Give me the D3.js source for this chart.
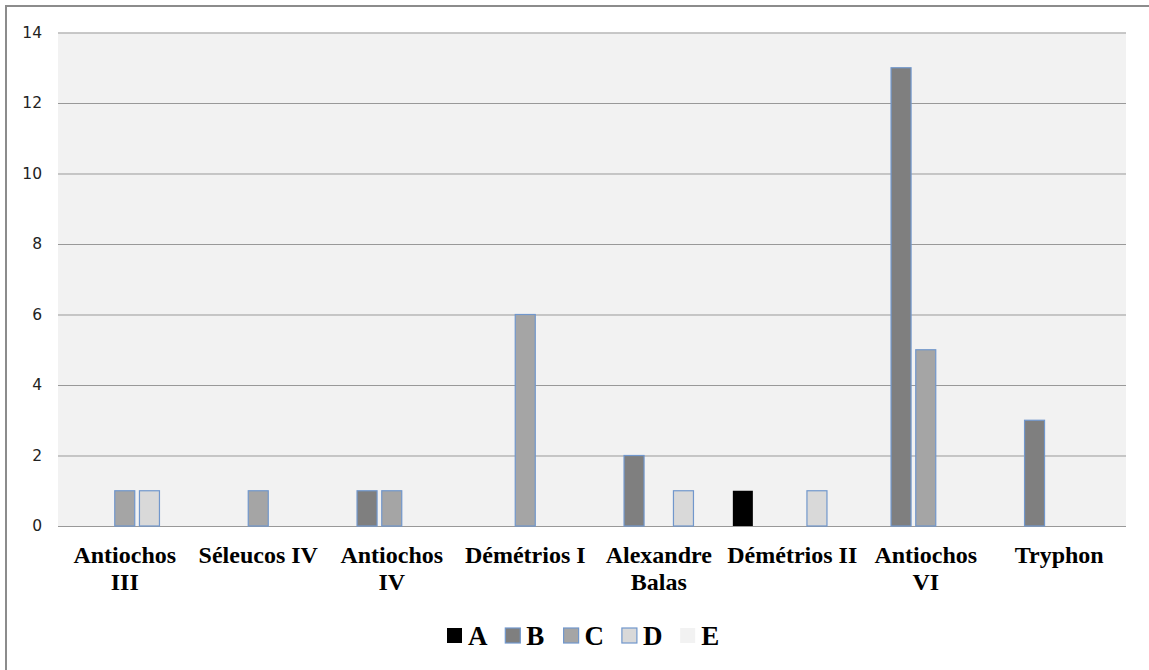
<!DOCTYPE html>
<html>
<head>
<meta charset="utf-8">
<script src="https://cdn.jsdelivr.net/npm/d3@7"></script>
<style>
  html, body { margin: 0; padding: 0; background: #fff; }
  svg { display: block; }
</style>
</head>
<body>
<svg id="chart" width="1149" height="670"></svg>
<script>
// Rulers and the number of pieces attributed to each, by class A–E
const categories = ["Antiochos III", "Séleucos IV", "Antiochos IV", "Démétrios I",
                    "Alexandre Balas", "Démétrios II", "Antiochos VI", "Tryphon"];
const series = ["A", "B", "C", "D", "E"];
const valuesA = [0, 0, 0, 0, 0, 1, 0, 0];
const valuesB = [0, 0, 1, 0, 2, 0, 13, 3];
const valuesC = [1, 1, 1, 6, 0, 0, 5, 0];
const valuesD = [1, 0, 0, 0, 1, 1, 0, 0];
const valuesE = [0, 0, 0, 0, 0, 0, 0, 0];
const yTicks = [0, 2, 4, 6, 8, 10, 12, 14];

const seriesValues = { A: valuesA, B: valuesB, C: valuesC, D: valuesD, E: valuesE };
const fills = { A: "#000000", B: "#7f7f7f", C: "#a5a5a5", D: "#d9d9d9", E: "#f2f2f2" };
const strokes = { A: "none", B: "#7197cc", C: "#7197cc", D: "#7197cc", E: "none" };

const svg = d3.select("#chart");
const plot = { left: 58, right: 1126, top: 32.5, bottom: 526 };

// outer frame
svg.append("rect")
  .attr("x", 6).attr("y", 6)
  .attr("width", 1160).attr("height", 680)
  .attr("fill", "#fff")
  .attr("stroke", "#8c8c8c")
  .attr("stroke-width", 2);

// plot background
svg.append("rect")
  .attr("x", plot.left).attr("y", plot.top)
  .attr("width", plot.right - plot.left).attr("height", plot.bottom - plot.top)
  .attr("fill", "#f2f2f2");

const y = d3.scaleLinear().domain([0, 14]).range([plot.bottom, plot.top]);
const x0 = d3.scaleBand().domain(categories).range([plot.left, plot.right]);
const x1 = d3.scaleBand().domain(series).range([0, x0.bandwidth()])
  .paddingInner(0.19).paddingOuter(0.297);

// value axis with gridlines
const yAxis = svg.append("g")
  .attr("transform", `translate(${plot.left},0)`)
  .call(d3.axisLeft(y).tickValues(yTicks).tickSize(-(plot.right - plot.left)).tickPadding(16));
yAxis.select(".domain").remove();
yAxis.selectAll(".tick line").attr("stroke", "#999999").attr("stroke-width", 1);
yAxis.selectAll(".tick text")
  .attr("font-family", "'DejaVu Sans', Verdana, sans-serif")
  .attr("font-size", 15.5)
  .attr("fill", "#222");

// bars
const rows = [];
categories.forEach((c, i) => {
  series.forEach(s => {
    const v = seriesValues[s][i];
    if (v > 0) rows.push({ cat: c, s, v });
  });
});

svg.append("g").selectAll("rect")
  .data(rows)
  .join("rect")
  .attr("x", d => x0(d.cat) + x1(d.s))
  .attr("y", d => y(d.v))
  .attr("width", x1.bandwidth())
  .attr("height", d => y(0) - y(d.v))
  .attr("fill", d => fills[d.s])
  .attr("stroke", d => strokes[d.s])
  .attr("stroke-width", 1.2);

// category labels, wrapped to the band width
const labelFont = "'Liberation Serif', 'Times New Roman', serif";
const labels = svg.append("g").selectAll("text")
  .data(categories)
  .join("text")
  .attr("x", d => x0(d) + x0.bandwidth() / 2)
  .attr("y", 563)
  .attr("text-anchor", "middle")
  .attr("font-family", labelFont)
  .attr("font-weight", "bold")
  .attr("font-size", 24)
  .attr("fill", "#000");

labels.each(function(d) {
  const text = d3.select(this);
  const words = d.split(" ");
  const maxW = x0.bandwidth();
  let line = [];
  let tspan = text.append("tspan").attr("x", text.attr("x")).attr("dy", 0);
  words.forEach(w => {
    line.push(w);
    tspan.text(line.join(" "));
    if (tspan.node().getComputedTextLength() > maxW && line.length > 1) {
      line.pop();
      tspan.text(line.join(" "));
      line = [w];
      tspan = text.append("tspan").attr("x", text.attr("x")).attr("dy", 27).text(w);
    }
  });
});

// legend
const legendStart = 447, legendStep = 58.3;
const legend = svg.append("g").selectAll("g")
  .data(series)
  .join("g")
  .attr("transform", (d, i) => `translate(${legendStart + i * legendStep},628)`);
legend.append("rect")
  .attr("width", 15).attr("height", 15)
  .attr("fill", d => fills[d])
  .attr("stroke", d => strokes[d])
  .attr("stroke-width", 1.2);
legend.append("text")
  .attr("x", 21).attr("y", 17)
  .attr("font-family", labelFont)
  .attr("font-weight", "bold")
  .attr("font-size", 27)
  .attr("fill", "#000")
  .text(d => d);
</script>
</body>
</html>
